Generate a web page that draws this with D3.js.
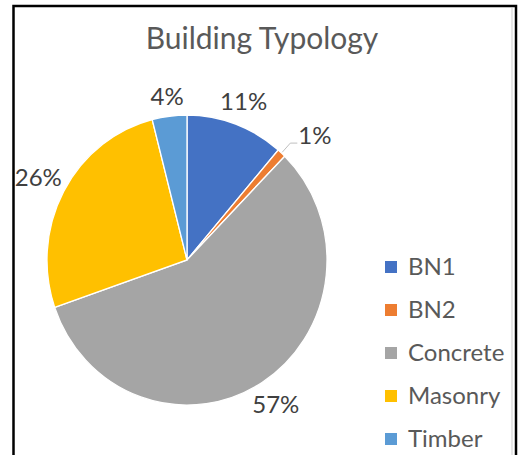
<!DOCTYPE html>
<html><head><meta charset="utf-8">
<script src="https://cdn.jsdelivr.net/npm/d3@7"></script>
<style>body{margin:0;background:#fff}svg{display:block}</style>
</head><body>
<svg id="c" width="518" height="455"></svg>
<script>
const categories = ["BN1","BN2","Concrete","Masonry","Timber"];
const values = [11.3, 1.0, 57.4, 26.3, 4.0];
const colors = ["#4472C4","#ED7D31","#A5A5A5","#FFC000","#5B9BD5"];
const title = "Building Typology";

const svg = d3.select("#c");
const W = 518, H = 455;
svg.append("rect").attr("width",W).attr("height",H).attr("fill","#fff");
// frame
svg.append("rect").attr("x",13.5).attr("y",6).attr("width",502.5).attr("height",470)
  .attr("fill","none").attr("stroke","#000").attr("stroke-width",2.5);
svg.append("line").attr("x1",512).attr("x2",512).attr("y1",8).attr("y2",H)
  .attr("stroke","#e6e6e6").attr("stroke-width",2);

const font = "Lato, 'Open Sans', sans-serif";
svg.append("text").attr("x",262).attr("y",49).attr("text-anchor","middle")
  .attr("font-family",font).attr("font-size",30).attr("fill","#595959").text(title);

const cx = 187, cy = 260, R = 140, sy = 1.036;
const data = categories.map((c,i)=>({c, v: values[i], col: colors[i]}));
const pie = d3.pie().value(d=>d.v).sort(null);
const arcs = pie(data);
const arc = d3.arc().innerRadius(0).outerRadius(R);
const g = svg.append("g").attr("transform",`translate(${cx},${cy}) scale(1,${sy})`);
g.selectAll("path").data(arcs).join("path")
  .attr("d",arc).attr("fill",d=>d.data.col)
  .attr("stroke","#fff").attr("stroke-width",1.3);

const total = d3.sum(values);
const pos = (a, r) => [cx + r*Math.sin(a), cy - r*Math.cos(a)*sy];
const lab = svg.append("g").attr("font-family",font).attr("font-size",24).attr("fill","#404040");
arcs.forEach(d=>{
  const mid = (d.startAngle + d.endAngle)/2;
  const txt = Math.round(d.data.v/total*100) + "%";
  if (d.endAngle - d.startAngle < 0.1) {
    const p1 = pos(mid, R+1), p2 = pos(mid, R+13);
    svg.append("polyline").attr("points",`${p1} ${p2} ${p2[0]+7},${p2[1]}`)
      .attr("fill","none").attr("stroke","#bfbfbf").attr("stroke-width",1);
    lab.append("text").attr("x",p2[0]+8).attr("y",p2[1]+1).text(txt);
  } else {
    const t = lab.append("text").attr("text-anchor","middle").attr("dy","0.35em").text(txt);
    const bb = t.node().getBBox();
    const hw = bb.width/2, hh = 9;
    const s = Math.sin(mid), c = Math.cos(mid);
    const r = R + 8 + Math.abs(s)*hw*0.8 + Math.abs(c)*hh;
    const p = pos(mid, r);
    t.attr("x",p[0]).attr("y",p[1]);
  }
});

const leg = svg.append("g").attr("font-family",font).attr("font-size",24).attr("fill","#595959");
data.forEach((d,i)=>{
  const y = 267 + i*43;
  leg.append("rect").attr("x",385).attr("y",y-6).attr("width",12).attr("height",12).attr("fill",d.col);
  leg.append("text").attr("x",408).attr("y",y).attr("dy","0.35em").text(d.c);
});
</script>
</body></html>
